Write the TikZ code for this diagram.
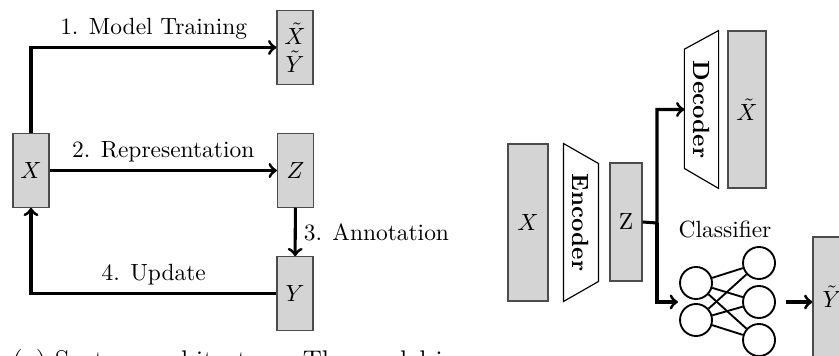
\documentclass[tikz,border=0pt]{standalone}
\usepackage{amsmath, amssymb}
\usepackage{xcolor}
\usepackage{tikz}
\usetikzlibrary{positioning, calc}

\begin{document}
\begin{tikzpicture}[
    x=0.015cm, y=-0.015cm,
    % Styles
    databox/.style={draw=black!70, fill=black!17, line width=0.5pt,
        inner sep=0pt, align=center},
    smallbox/.style={databox, minimum width=0.54cm, minimum height=1.1cm},
    coder/.style={minimum width=0.51cm, minimum height=2.355cm, inner sep=0pt},
    coderlbl/.style={rotate=-90, font=\bfseries, inner sep=0pt},
    coderline/.style={draw, line width=0.5pt},
    neuron/.style={draw, circle, thick, minimum size=0.48cm, inner sep=0pt},
    link/.style={thick},
    arr/.style={->, line width=1.3pt},
    lbl/.style={inner sep=3pt},
]
\useasboundingbox (0,0) rectangle (839,356);

% ===== Left: system loop =====
\node[smallbox] (xl) at (31,170.5) {$X$};
\node[smallbox] (xyt) at (295,47.5) {$\tilde{X}$\\$\tilde{Y}$};
\node[smallbox] (zl) at (295.5,170.5) {$Z$};
\node[smallbox] (yl) at (295,293.5) {$Y$};

\draw[arr] (xl.north) |- (xyt.west)
    node[lbl, pos=0.75, above] {1. Model Training};
\draw[arr] (xl) -- (zl)
    node[lbl, midway, above] {2. Representation};
\draw[arr] (zl) -- (yl)
    node[lbl, midway, right] {3. Annotation};
\draw[arr] (yl.west) -| (xl.south)
    node[lbl, pos=0.25, above] {4. Update};

% caption (cut off by the page)
\node[anchor=base west, inner sep=0pt, font=\fontsize{11.5}{14}\selectfont]
    (cap) at (12,369) {(a) System architecture. The model is};

% ===== Right: encoder / decoder / classifier =====
\node[databox, minimum width=0.6cm, minimum height=2.355cm] (xr)
    at (528,222.5) {$X$};

\node[coder] (enc) at (581,222.5) {};
\draw[coderline] (enc.north west) -- ($(enc.north east)+(0,-0.3cm)$)
    -- ($(enc.south east)+(0,0.3cm)$) -- (enc.south west) -- cycle;
\node[coderlbl] at (enc.center) {Encoder};

\node[databox, minimum width=0.48cm, minimum height=1.77cm] (zr)
    at (626,222) {Z};

\node[coder, minimum width=0.5cm] (dec) at (701.5,109.5) {};
\draw[coderline] ($(dec.north west)+(0,-0.28cm)$) -- (dec.north east)
    -- (dec.south east) -- ($(dec.south west)+(0,0.3cm)$) -- cycle;
\node[coderlbl] at (dec.center) {Decoder};

\node[databox, minimum width=0.57cm, minimum height=2.355cm] (xtr)
    at (747,109.5) {$\tilde{X}$};

% Classifier network
\node (clslbl) at (725,230) {Classifier};
\node[neuron] (i1) at (696,283) {};
\node[neuron] (i2) at (696,320) {};
\node[neuron] (o1) at (759,263) {};
\node[neuron] (o2) at (759,302) {};
\node[neuron] (o3) at (759,340) {};
\foreach \i in {i1,i2}
    \foreach \o in {o1,o2,o3}
        \draw[link] (\i) -- (\o);

\node[databox, minimum width=0.57cm, minimum height=1.8cm] (ytr)
    at (832,297) {$\tilde{Y}$};

% Branching from Z
\coordinate (br) at (657,223);
\coordinate (clsin) at (678,302);
\draw[arr] (zr.east) -- (br) |- (dec.west);
\draw[arr] (br) |- (clsin);
\draw[arr, shorten <=0.15cm] (o2.east) -- (o2.east -| ytr.west);

\end{tikzpicture}
\end{document}
